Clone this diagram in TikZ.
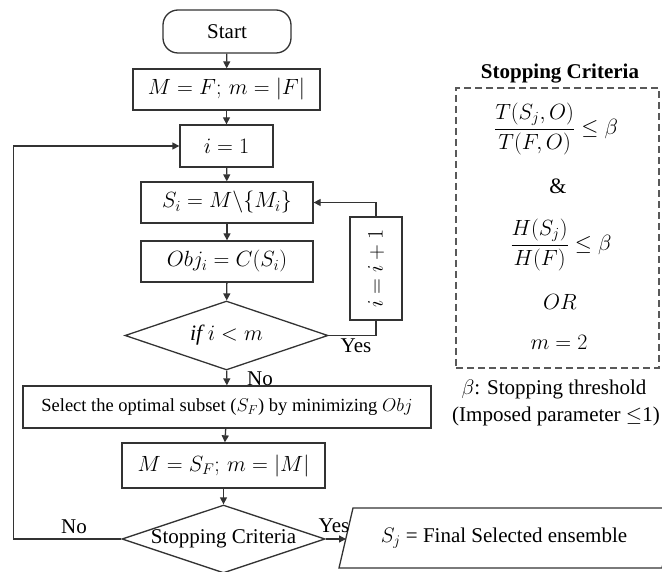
\RequirePackage{fix-cm}
\documentclass[tikz,border=0pt]{standalone}
\usepackage{fontspec}
\setmainfont{Liberation Serif}
\usetikzlibrary{shapes.geometric,arrows.meta}
\begin{document}
\begin{tikzpicture}[x=1pt,y=-1pt,
  base/.style={draw=black!80,line width=1.3pt,inner sep=0pt,font=\fontsize{21}{25}\selectfont},
  mth/.style={font=\fontsize{22}{26}\selectfont},
  procbox/.style={base,rectangle},
  decision/.style={base,diamond,minimum width=203,minimum height=69},
  lbl/.style={inner sep=0pt,font=\fontsize{21}{25}\selectfont},
  arr/.style={draw=black!80,line width=1.3pt,-{Triangle[length=7pt,width=7pt]}},
  ln/.style={draw=black!80,line width=1.3pt}]
\useasboundingbox (0,0) rectangle (662,572);
\clip (0,0) rectangle (662,572);
% flow nodes
\node[procbox,rounded corners=15pt,minimum width=128,minimum height=43] (start) at (227,31.5) {Start};
\node[procbox,mth,minimum width=187,minimum height=41] (mf) at (226.5,89.5) {$M=F;\, m=|F|$};
\node[procbox,mth,minimum width=93,minimum height=42] (i1) at (226.5,146) {$i=1$};
\node[procbox,mth,minimum width=172,minimum height=41] (si) at (227,202.5) {$S_i=M\backslash\{M_i\}$};
\node[procbox,mth,minimum width=172,minimum height=41] (obj) at (227,261.5) {$Obj_i=C(S_i)$};
\node[decision,font=\fontsize{22}{26}\selectfont] (if) at (226.5,335.5) {\makebox[0pt]{$\mathit{if}\ i<m$}};
\node[procbox,minimum width=408,minimum height=42,font=\fontsize{18.5}{22}\selectfont] (sel) at (227,407) {Select the optimal subset ($S_F$) by minimizing $Obj$};
\node[procbox,mth,minimum width=203,minimum height=45] (msf) at (223.5,465.5) {$M=S_F;\, m=|M|$};
\node[decision,minimum height=68] (stop) at (223.5,539) {\makebox[0pt]{\raisebox{-3pt}{Stopping Criteria}}};
\node[procbox,mth,minimum width=52,minimum height=103] (inc) at (376,268.5) {\rotatebox{90}{$i=i+1$}};
% output parallelogram
\draw[ln] (353,508) -- (676,508) -- (662,568) -- (339,568) -- cycle;
\node[lbl] (out) at (504,538) {$S_j$ = Final Selected ensemble};
\coordinate (outin) at (346,539);
% connectors
\draw[arr] (start) -- (mf);
\draw[arr] (mf) -- (i1);
\draw[arr] (i1) -- (si);
\draw[arr] (si) -- (obj);
\draw[arr] (obj) -- (if);
\draw[arr] (if) -- (sel);
\draw[arr] (sel) -- (msf);
\draw[arr] (msf) -- (stop);
\draw[arr] (stop.east) -- (outin);
\draw[arr] (stop.west) -- ++(-108,0) |- (i1.west);
\draw[ln] (if.east) -| (inc.south);
\draw[arr] (inc.north) |- (si.east);
% labels
\node[lbl] (noa) at (260,379) {No};
\node[lbl] (yesa) at (356,346) {Yes};
\node[lbl] (nob) at (74,527) {No};
\node[lbl] (yesb) at (334,526) {Yes};
% stopping criteria panel
\node[lbl,font=\bfseries\fontsize{21}{25}\selectfont] (sctitle) at (560,74) {Stopping Criteria};
\node[draw=black!65,dash pattern=on 7pt off 4pt,line width=1.1pt,minimum width=203,minimum height=280,inner sep=0pt] (scbox) at (557.5,228) {};
\node[lbl,mth] (c1) at (556,129) {$\displaystyle\frac{T\bigl(S_j,O\bigr)}{T(F,O)}\leq\beta$};
\node[lbl,mth] (amp) at (558,186) {\&};
\node[lbl,mth] (c2) at (561,245) {$\displaystyle\frac{H\bigl(S_j\bigr)}{H(F)}\leq\beta$};
\node[lbl,mth] (or) at (560,302) {$OR$};
\node[lbl,mth] (m2) at (559,342) {$m=2$};
\node[lbl] (beta) at (554,389) {$\beta$: Stopping threshold};
\node[lbl] (imp) at (556,416) {(Imposed parameter $\leq$1)};
\end{tikzpicture}
\end{document}
